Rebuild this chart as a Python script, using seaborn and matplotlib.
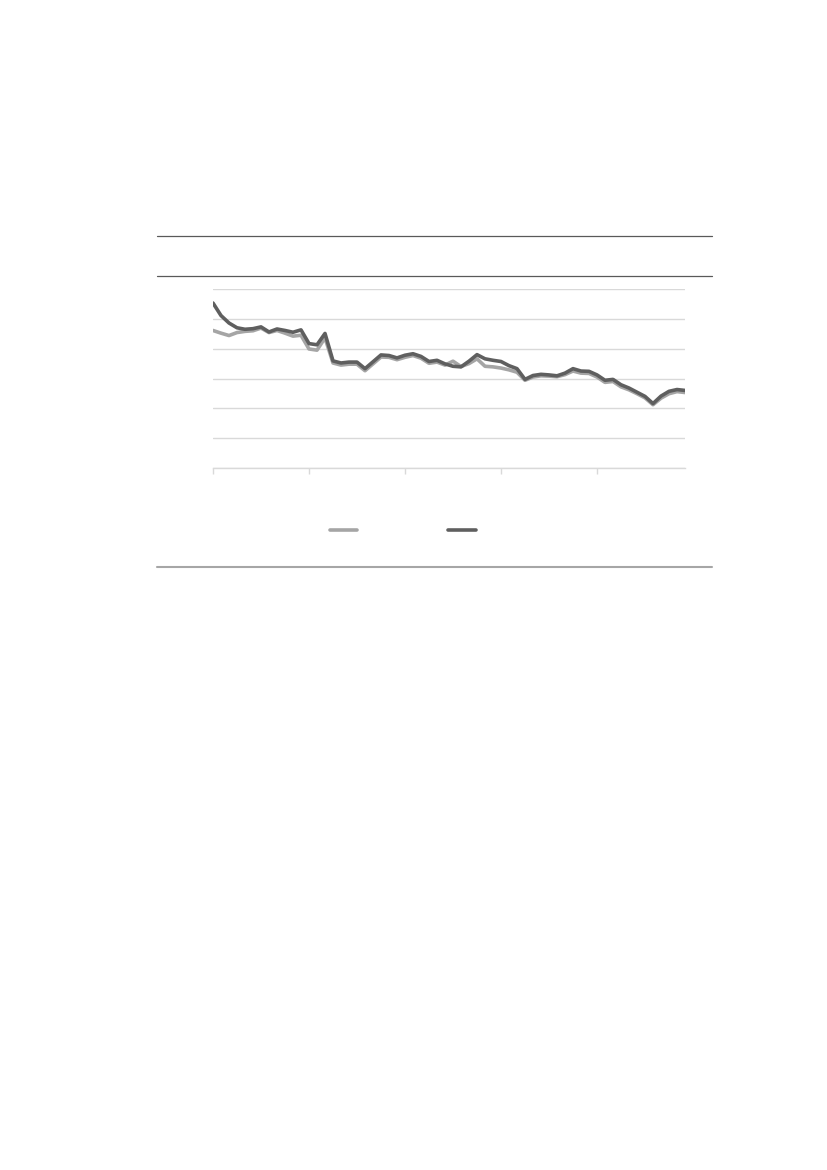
import numpy as np
import pandas as pd
import matplotlib
matplotlib.use("Agg")
import matplotlib.pyplot as plt
from matplotlib.lines import Line2D
import seaborn as sns

# ---- data (units = gridline steps) ----
months = list(range(60))
series_names = ["Series A", "Series B"]
series_a = [4.61, 4.52, 4.44, 4.54, 4.58, 4.60, 4.69, 4.54, 4.61, 4.52, 4.42, 4.45,
            3.99, 3.95, 4.36, 3.52, 3.45, 3.48, 3.48, 3.26, 3.49, 3.72, 3.71, 3.63,
            3.71, 3.77, 3.68, 3.51, 3.55, 3.45, 3.58, 3.40, 3.50, 3.66, 3.41, 3.39,
            3.35, 3.29, 3.21, 2.94, 3.05, 3.09, 3.08, 3.06, 3.13, 3.25, 3.18, 3.17,
            3.05, 2.87, 2.90, 2.72, 2.62, 2.49, 2.35, 2.12, 2.34, 2.49, 2.56, 2.53]
series_b = [5.53, 5.11, 4.86, 4.70, 4.65, 4.67, 4.73, 4.56, 4.66, 4.61, 4.55, 4.63,
            4.17, 4.13, 4.51, 3.59, 3.52, 3.55, 3.55, 3.33, 3.56, 3.79, 3.77, 3.69,
            3.78, 3.83, 3.74, 3.57, 3.61, 3.49, 3.41, 3.39, 3.58, 3.80, 3.66, 3.61,
            3.57, 3.43, 3.33, 2.97, 3.10, 3.14, 3.12, 3.09, 3.18, 3.33, 3.25, 3.24,
            3.12, 2.94, 2.97, 2.79, 2.68, 2.54, 2.40, 2.16, 2.41, 2.57, 2.63, 2.60]
x_ticks = [0, 12, 24, 36, 48]
y_ticks = [0, 1, 2, 3, 4, 5, 6]

df = pd.DataFrame({
    "month": months * 2,
    "value": series_a + series_b,
    "series": [series_names[0]] * len(months) + [series_names[1]] * len(months),
})

sns.set_style("white")
W, H = 827, 1170
fig = plt.figure(figsize=(W / 100, H / 100), dpi=100)
ax = fig.add_axes([213 / W, 1 - 468 / H, (685 - 213) / W, (468 - 289) / H])

palette = {series_names[0]: "#a5a5a5", series_names[1]: "#5f5f5f"}
sns.lineplot(data=df, x="month", y="value", hue="series", palette=palette,
             linewidth=2.6, ax=ax, legend=False)

ax.set_xlim(0, 59)
ax.set_ylim(0, 6)
ax.set_xticks(x_ticks)
ax.set_yticks(y_ticks)
ax.set_xticklabels([""] * len(x_ticks))
ax.set_yticklabels([""] * len(y_ticks))
ax.set_xlabel("")
ax.set_ylabel("")
ax.grid(axis="y", color="#d9d9d9", linewidth=1.0)
ax.set_axisbelow(True)
for s in ["top", "right", "left"]:
    ax.spines[s].set_visible(False)
ax.spines["bottom"].set_color("#d9d9d9")
ax.spines["bottom"].set_linewidth(1.0)
ax.tick_params(axis="x", bottom=True, length=4, width=1, color="#d9d9d9", direction="out")
ax.tick_params(axis="y", left=False, length=0)

# legend (no visible text)
handles = [Line2D([], [], color=palette[n], linewidth=2.6) for n in series_names]
fig.legend(handles, ["", ""], loc="center", ncol=2, frameon=False,
           handlelength=2.0, handletextpad=0.8, columnspacing=5.75,
           bbox_to_anchor=(408.5 / W, 1 - 531 / H), fontsize=10)

# decorative rules
fig.add_artist(Line2D([157 / W, 712 / W], [1 - 236 / H, 1 - 236 / H], color="#595959", linewidth=0.9))
fig.add_artist(Line2D([157 / W, 712 / W], [1 - 276 / H, 1 - 276 / H], color="#595959", linewidth=0.9))
fig.add_artist(Line2D([157 / W, 712 / W], [1 - 567 / H, 1 - 567 / H], color="#a6a6a6", linewidth=1.5))

fig.savefig("out.png", dpi=100)
